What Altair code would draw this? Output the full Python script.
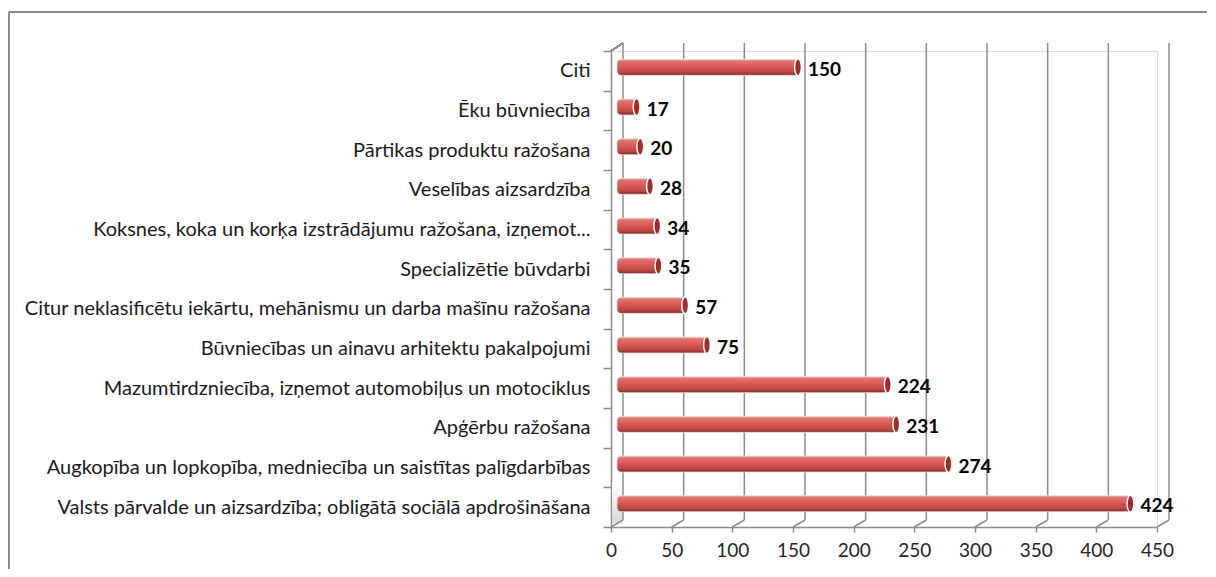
import altair as alt
import pandas as pd

categories = [
    "Citi",
    "Ēku būvniecība",
    "Pārtikas produktu ražošana",
    "Veselības aizsardzība",
    "Koksnes, koka un korķa izstrādājumu ražošana, izņemot...",
    "Specializētie būvdarbi",
    "Citur neklasificētu iekārtu, mehānismu un darba mašīnu ražošana",
    "Būvniecības un ainavu arhitektu pakalpojumi",
    "Mazumtirdzniecība, izņemot automobiļus un motociklus",
    "Apģērbu ražošana",
    "Augkopība un lopkopība, medniecība un saistītas palīgdarbības",
    "Valsts pārvalde un aizsardzība; obligātā sociālā apdrošināšana",
]
values = [150, 17, 20, 28, 34, 35, 57, 75, 224, 231, 274, 424]
x_ticks = [0, 50, 100, 150, 200, 250, 300, 350, 400, 450]

df = pd.DataFrame({"cat": categories, "val": values})
grid = pd.DataFrame({"t": x_ticks})

W, H = 546, 476
DX, DY = 12, -7
GRID = "#8c8c8c"
FONT = "Lato"

xscale = alt.Scale(domain=[0, 450], nice=False, zero=True)
yscale = alt.Scale(domain=categories, paddingInner=0, paddingOuter=0)

x_axis = alt.Axis(
    values=x_ticks, grid=False, domainColor=GRID, domainWidth=1.5,
    tickColor=GRID, tickWidth=1.5, tickSize=5, labelFont=FONT,
    labelFontSize=19, labelColor="#262626", labelPadding=9, title=None,
    labelFlush=False,
)
y_axis = alt.Axis(
    tickBand="extent", domainColor=GRID, domainWidth=1.5, tickColor=GRID,
    tickWidth=1.5, tickSize=8, labelFont=FONT, labelFontSize=20,
    labelColor="#1a1a1a", labelPadding=13, labelLimit=0, title=None,
)

frame_top = alt.Chart(df).mark_rule(color="#8a8a8a", strokeWidth=2).encode(
    x=alt.value(-602), x2=alt.value(700), y=alt.value(-39)
)
frame_left = alt.Chart(df).mark_rule(color="#8a8a8a", strokeWidth=2).encode(
    x=alt.value(-602), y=alt.value(-39), y2=alt.value(620)
)

back_grid = alt.Chart(grid).mark_rule(color=GRID, strokeWidth=1.5, xOffset=DX).encode(
    x=alt.X("t:Q", scale=xscale, axis=x_axis),
    y=alt.value(-8),
    y2=alt.value(H + DY),
)

floor = alt.Chart(grid).mark_rule(color=GRID, strokeWidth=1.5, x2Offset=DX).encode(
    x=alt.X("t:Q", scale=xscale, axis=x_axis),
    x2=alt.X2("t"),
    y=alt.value(H),
    y2=alt.value(H + DY),
)

wall_top = alt.Chart(df).mark_rule(color=GRID, strokeWidth=1.5).encode(
    x=alt.value(0), x2=alt.value(DX), y=alt.value(0), y2=alt.value(-8)
)

shade_grad = alt.Gradient(
    gradient="linear", x1=0, x2=0, y1=0, y2=1,
    stops=[
        alt.GradientStop(color="#ffffff", offset=0),
        alt.GradientStop(color="#d9d9d9", offset=1),
    ],
)
wall_shade = alt.Chart(df).mark_rect(color=shade_grad, opacity=0.8).encode(
    x=alt.value(1), x2=alt.value(DX - 1), y=alt.value(H - 45), y2=alt.value(H - 4)
)

grad = alt.Gradient(
    gradient="linear",
    x1=0, x2=0, y1=0, y2=1,
    stops=[
        alt.GradientStop(color="#e9b3b0", offset=0),
        alt.GradientStop(color="#e2736e", offset=0.12),
        alt.GradientStop(color="#d85a55", offset=0.45),
        alt.GradientStop(color="#bd4642", offset=0.8),
        alt.GradientStop(color="#7d2a28", offset=1),
    ],
)

bars = alt.Chart(df).mark_bar(
    color=grad, size=16, xOffset=6, x2Offset=6, yOffset=-3.5, cornerRadius=4,
    stroke="#e6dede", strokeWidth=0.8,
).encode(
    x=alt.X("val:Q", scale=xscale, axis=x_axis, stack=None),
    x2=alt.X2(datum=0),
    y=alt.Y("cat:N", scale=yscale, sort=categories, axis=y_axis),
)

ellipse = "M0,-1 A0.4,1 0 1,1 0,1 A0.4,1 0 1,1 0,-1 Z"
caps = alt.Chart(df).mark_point(
    shape=ellipse, filled=True, fill="#a32c2a", stroke="#ffffff", strokeWidth=1.5,
    size=289, opacity=1, xOffset=5, yOffset=-3.5,
).encode(
    x=alt.X("val:Q", scale=xscale, axis=x_axis),
    y=alt.Y("cat:N", scale=yscale, sort=categories, axis=y_axis),
)

labels = alt.Chart(df).mark_text(
    align="left", baseline="middle", dx=15, dy=-1, font=FONT, fontSize=19,
    fontWeight="bold", color="#000000",
).encode(
    x=alt.X("val:Q", scale=xscale, axis=x_axis),
    y=alt.Y("cat:N", scale=yscale, sort=categories, axis=y_axis),
    text="val:Q",
)

chart = alt.layer(
    frame_top, frame_left, wall_shade, back_grid, floor, wall_top, bars, caps, labels
).properties(
    width=W,
    height=H,
    autosize=alt.AutoSizeParams(type="none"),
    padding={"left": 603, "top": 43, "right": 50, "bottom": 42},
).configure_view(stroke=None).configure(background="white")

chart.save("out.html", embed_options={"renderer": "svg", "actions": False})
